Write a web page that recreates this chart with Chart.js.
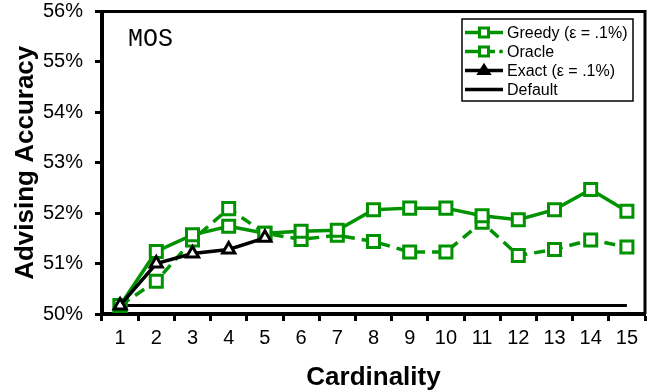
<!DOCTYPE html>
<html>
<head>
<meta charset="utf-8">
<script src="https://cdn.jsdelivr.net/npm/chart.js@4.4.1/dist/chart.umd.min.js"></script>
<style>
  html, body { margin: 0; padding: 0; background: #fff; }
  #wrap { width: 657px; height: 392px; position: relative; }
</style>
</head>
<body>
<div id="wrap"><canvas id="chart" width="657" height="392"></canvas></div>
<script>
// ── Data ─────────────────────────────────────────────────────────────────────
const CARDINALITY = ['1','2','3','4','5','6','7','8','9','10','11','12','13','14','15'];
const GREEDY  = [50.17, 51.24, 51.57, 51.74, 51.60, 51.64, 51.66, 52.07, 52.10, 52.10, 51.95, 51.87, 52.07, 52.47, 52.04];
const ORACLE  = [50.17, 50.65, 51.47, 52.09, 51.60, 51.48, 51.56, 51.44, 51.23, 51.23, 51.82, 51.16, 51.28, 51.47, 51.33];
const EXACT   = [50.17, 51.00, 51.20, 51.28, 51.51];
const DEFAULT = [50.17, 50.17, 50.17, 50.17, 50.17, 50.17, 50.17, 50.17, 50.17, 50.17, 50.17, 50.17, 50.17, 50.17, 50.17];
const Y_TICKS = [50, 51, 52, 53, 54, 55, 56];

const GREEN = '#009200';
const FONT = "'Liberation Sans', Arial, sans-serif";

// ── Frame, MOS label and legend box ──────────────────────────────────────────
const framePlugin = {
  id: 'frame',
  afterDatasetsDraw(chart) {
    const { ctx, chartArea: a } = chart;
    ctx.save();
    ctx.strokeStyle = '#000';
    ctx.lineWidth = 3;
    ctx.beginPath();
    ctx.moveTo(a.left, a.top);
    ctx.lineTo(a.right, a.top);
    ctx.lineTo(a.right, a.bottom);
    ctx.stroke();

    ctx.fillStyle = '#000';
    ctx.font = "25px 'Liberation Mono', 'Courier New', monospace";
    ctx.textBaseline = 'alphabetic';
    ctx.fillText('MOS', 128, 46);
    ctx.restore();
  },
};

const legendPlugin = {
  id: 'boxLegend',
  afterDraw(chart) {
    const { ctx } = chart;
    const x0 = 462, y0 = 19, w = 171, h = 82;
    ctx.save();
    ctx.fillStyle = '#fff';
    ctx.fillRect(x0, y0, w, h);
    ctx.strokeStyle = '#000';
    ctx.lineWidth = 1.5;
    ctx.strokeRect(x0, y0, w, h);

    const rows = chart.data.datasets.slice();
    rows.sort((p, q) => p.legendIndex - q.legendIndex);
    ctx.font = '16px ' + FONT;
    ctx.textBaseline = 'middle';
    rows.forEach((d, i) => {
      const cy = y0 + 13.5 + i * 19;
      const lx0 = x0 + 3, lx1 = x0 + 41, mx = (lx0 + lx1) / 2;
      ctx.strokeStyle = d.borderColor;
      ctx.lineWidth = 3.5;
      ctx.beginPath();
      if (d.borderDash) {
        // long dash, marker, short dash, dot
        ctx.moveTo(lx0, cy); ctx.lineTo(mx, cy);
        ctx.moveTo(mx, cy); ctx.lineTo(mx + 11, cy);
        ctx.stroke();
        ctx.beginPath();
        ctx.arc(lx1 - 2, cy, 2, 0, Math.PI * 2);
        ctx.fillStyle = d.borderColor;
        ctx.fill();
      } else {
        ctx.moveTo(lx0, cy);
        ctx.lineTo(lx1, cy);
        ctx.stroke();
      }
      if (d.pointRadius > 0) {
        ctx.lineWidth = 3;
        ctx.strokeStyle = d.pointBorderColor;
        ctx.beginPath();
        if (d.pointStyle === 'rect') {
          ctx.fillStyle = '#fff';
          ctx.rect(mx - 4.5, cy - 4.5, 9, 9);
        } else {
          ctx.fillStyle = '#000';
          ctx.moveTo(mx, cy - 5);
          ctx.lineTo(mx + 5, cy + 3);
          ctx.lineTo(mx - 5, cy + 3);
          ctx.closePath();
        }
        ctx.fill();
        ctx.stroke();
      }
      ctx.fillStyle = '#000';
      ctx.fillText(d.label, x0 + 45, cy + 1);
    });
    ctx.restore();
  },
};

function series(label, data, color, opts) {
  return Object.assign({
    label,
    data,
    borderColor: color,
    backgroundColor: color,
    borderWidth: 3.5,
    pointBackgroundColor: '#fff',
    pointBorderColor: color,
    pointBorderWidth: 3,
    pointHoverRadius: 0,
    tension: 0,
  }, opts);
}

new Chart(document.getElementById('chart'), {
  type: 'line',
  data: {
    labels: CARDINALITY,
    datasets: [
      series('Default', DEFAULT, '#000', { pointRadius: 0, borderWidth: 3, order: 4, legendIndex: 3 }),
      series('Oracle', ORACLE, GREEN, { pointStyle: 'rect', pointRadius: 8.5, borderDash: [11, 7], order: 3, legendIndex: 1 }),
      series('Greedy (\u03b5 = .1%)', GREEDY, GREEN, { pointStyle: 'rect', pointRadius: 8.5, order: 2, legendIndex: 0 }),
      series('Exact (\u03b5 = .1%)', EXACT, '#000', { pointStyle: 'triangle', pointRadius: 7, order: 1, legendIndex: 2 }),
    ],
  },
  options: {
    responsive: false,
    animation: false,
    layout: { padding: { top: 10, right: 12, left: 0, bottom: 0 } },
    plugins: {
      legend: { display: false },
      tooltip: { enabled: false },
    },
    scales: {
      x: {
        offset: true,
        grid: {
          offset: true,
          drawOnChartArea: false,
          drawTicks: true,
          tickLength: 7,
          tickWidth: 3,
          tickColor: '#000',
        },
        border: { color: '#000', width: 4 },
        ticks: {
          color: '#000',
          font: { family: FONT, size: 20 },
          padding: 5,
          maxRotation: 0,
        },
        title: {
          display: true,
          text: 'Cardinality',
          color: '#000',
          font: { family: FONT, size: 26, weight: 'bold' },
          padding: { top: 0, bottom: -1 },
        },
        afterFit: s => { s.height = 78; },
      },
      y: {
        min: 50,
        max: 56,
        afterBuildTicks: s => { s.ticks = Y_TICKS.map(v => ({ value: v })); },
        grid: {
          drawOnChartArea: false,
          drawTicks: true,
          tickLength: 7,
          tickWidth: 3,
          tickColor: '#000',
        },
        border: { color: '#000', width: 4 },
        ticks: {
          color: '#000',
          font: { family: FONT, size: 20 },
          padding: 12,
          callback: v => v + '%',
        },
        title: {
          display: true,
          text: 'Advising Accuracy',
          color: '#000',
          font: { family: FONT, size: 26, weight: 'bold' },
          padding: { top: 10, bottom: 0 },
        },
        afterFit: s => { s.width = 102; s.paddingTop = 0; s.paddingBottom = 0; },
      },
    },
  },
  plugins: [framePlugin, legendPlugin],
});
</script>
</body>
</html>
